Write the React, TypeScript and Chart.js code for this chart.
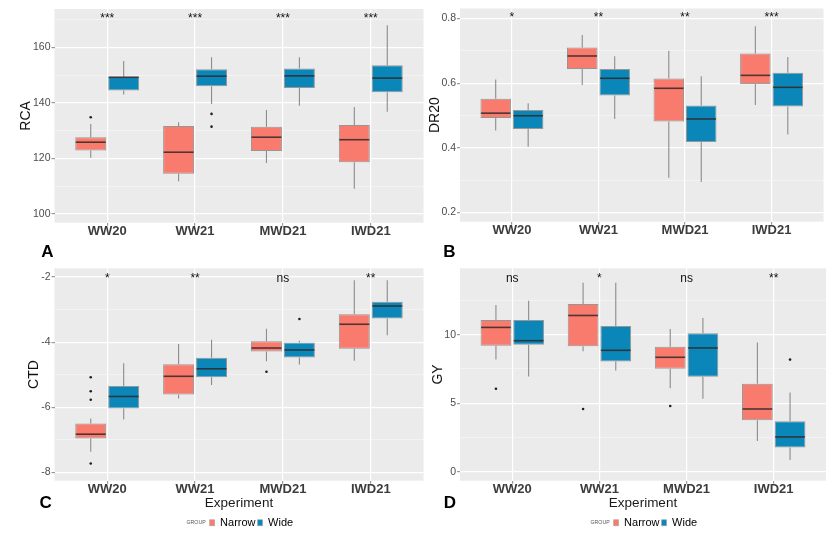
import React, { useEffect, useRef } from 'react';
import { Chart, registerables } from 'chart.js';

Chart.register(...registerables);

const FONT = "'Liberation Sans', Arial, Helvetica, sans-serif";
const NARROW_COLOR = '#F97B6D';
const WIDE_COLOR = '#0A87B8';

// ---------- data ----------
const CATEGORIES = ['WW20', 'WW21', 'MWD21', 'IWD21'];
const GROUPS = ['Narrow', 'Wide'];

// each box: [lower whisker, Q1, median, Q3, upper whisker]
const RCA_NARROW = [
  [120.2, 122.8, 125.8, 127.6, 132.4],
  [111.7, 114.4, 122.2, 131.6, 133.0],
  [118.3, 122.6, 127.6, 131.4, 137.4],
  [109.0, 118.6, 126.7, 132.0, 138.5],
];
const RCA_WIDE = [
  [143.0, 144.4, 149.2, 149.4, 155.1],
  [139.6, 146.0, 149.6, 152.1, 156.4],
  [138.9, 145.3, 149.7, 152.4, 156.4],
  [136.8, 143.8, 148.9, 153.5, 167.9],
];
const RCA_NARROW_OUT = [[134.8], [], [], []];
const RCA_WIDE_OUT = [[], [136.0, 131.4], [], []];
const RCA_SIG = ['***', '***', '***', '***'];
const RCA_MAJOR = [100, 120, 140, 160];
const RCA_MINOR = [110, 130, 150, 170];

const DR20_NARROW = [
  [0.453, 0.492, 0.507, 0.552, 0.611],
  [0.594, 0.644, 0.684, 0.710, 0.749],
  [0.307, 0.481, 0.584, 0.614, 0.700],
  [0.532, 0.597, 0.624, 0.692, 0.776],
];
const DR20_WIDE = [
  [0.403, 0.458, 0.499, 0.517, 0.538],
  [0.489, 0.562, 0.615, 0.644, 0.683],
  [0.294, 0.418, 0.489, 0.531, 0.621],
  [0.441, 0.528, 0.587, 0.632, 0.681],
];
const DR20_NARROW_OUT = [[], [], [], []];
const DR20_WIDE_OUT = [[], [], [], []];
const DR20_SIG = ['*', '**', '**', '***'];
const DR20_MAJOR = [0.2, 0.4, 0.6, 0.8];
const DR20_MINOR = [0.3, 0.5, 0.7];

const CTD_NARROW = [
  [-7.37, -6.96, -6.83, -6.50, -6.35],
  [-5.73, -5.61, -5.05, -4.68, -4.06],
  [-4.59, -4.29, -4.18, -3.97, -3.59],
  [-4.57, -4.20, -3.45, -3.14, -2.10],
];
const CTD_WIDE = [
  [-6.38, -6.04, -5.67, -5.35, -4.65],
  [-5.32, -5.08, -4.82, -4.48, -3.93],
  [-4.69, -4.47, -4.24, -4.01, -3.96],
  [-3.79, -3.27, -2.89, -2.76, -2.10],
];
const CTD_NARROW_OUT = [[-5.08, -5.51, -5.77, -7.73], [], [-4.91], []];
const CTD_WIDE_OUT = [[], [], [-3.29], []];
const CTD_SIG = ['*', '**', 'ns', '**'];
const CTD_MAJOR = [-8, -6, -4, -2];
const CTD_MINOR = [-7, -5, -3];

const GY_NARROW = [
  [8.18, 9.20, 10.53, 11.07, 12.16],
  [8.79, 9.15, 11.40, 12.23, 13.78],
  [6.10, 7.51, 8.35, 9.11, 10.41],
  [2.25, 3.75, 4.58, 6.42, 9.42],
];
const GY_WIDE = [
  [6.95, 9.27, 9.56, 11.07, 12.47],
  [7.39, 8.04, 8.86, 10.63, 13.78],
  [5.33, 6.93, 9.03, 10.10, 11.21],
  [0.86, 1.77, 2.54, 3.68, 5.79],
];
const GY_NARROW_OUT = [[6.06], [4.58], [4.80], []];
const GY_WIDE_OUT = [[], [], [], [8.18]];
const GY_SIG = ['ns', '*', 'ns', '**'];
const GY_MAJOR = [0, 5, 10];
const GY_MINOR = [2.5, 7.5, 12.5];

// ---------- panel layout ----------
type Rect = { left: number; top: number; w: number; h: number };
type Area = { left: number; top: number; right: number; bottom: number };
type PanelSpec = {
  letter: string;
  letterPos: [number, number];
  title: string;
  titlePad: number;
  narrow: number[][];
  wide: number[][];
  narrowOut: number[][];
  wideOut: number[][];
  sig: string[];
  sigY: number;
  yMin: number;
  yMax: number;
  major: number[];
  minor: number[];
  canvas: Rect;
  area: Area;
  bottomRow: boolean;
};

const PANELS: PanelSpec[] = [
  {
    letter: 'A', letterPos: [47.5, 251.5], title: 'RCA', titlePad: 17.6,
    narrow: RCA_NARROW, wide: RCA_WIDE, narrowOut: RCA_NARROW_OUT, wideOut: RCA_WIDE_OUT,
    sig: RCA_SIG, sigY: 170.3, yMin: 96.8, yMax: 173.8, major: RCA_MAJOR, minor: RCA_MINOR,
    canvas: { left: 0, top: 0, w: 425, h: 260 },
    area: { left: 54.5, top: 9, right: 423.5, bottom: 222.7 },
    bottomRow: false,
  },
  {
    letter: 'B', letterPos: [449.5, 251.7], title: 'DR20', titlePad: 2.1,
    narrow: DR20_NARROW, wide: DR20_WIDE, narrowOut: DR20_NARROW_OUT, wideOut: DR20_WIDE_OUT,
    sig: DR20_SIG, sigY: 0.8025, yMin: 0.171, yMax: 0.831, major: DR20_MAJOR, minor: DR20_MINOR,
    canvas: { left: 425, top: 0, w: 413, h: 260 },
    area: { left: 35, top: 8.5, right: 398.5, bottom: 221.7 },
    bottomRow: false,
  },
  {
    letter: 'C', letterPos: [45.7, 503], title: 'CTD', titlePad: 25.6,
    narrow: CTD_NARROW, wide: CTD_WIDE, narrowOut: CTD_NARROW_OUT, wideOut: CTD_WIDE_OUT,
    sig: CTD_SIG, sigY: -2.05, yMin: -8.26, yMax: -1.73, major: CTD_MAJOR, minor: CTD_MINOR,
    canvas: { left: 0, top: 260, w: 425, h: 273 },
    area: { left: 54.5, top: 8.3, right: 423.5, bottom: 220.7 },
    bottomRow: true,
  },
  {
    letter: 'D', letterPos: [450, 503], title: 'GY', titlePad: 4.6,
    narrow: GY_NARROW, wide: GY_WIDE, narrowOut: GY_NARROW_OUT, wideOut: GY_WIDE_OUT,
    sig: GY_SIG, sigY: 14.05, yMin: -0.65, yMax: 14.84, major: GY_MAJOR, minor: GY_MINOR,
    canvas: { left: 425, top: 260, w: 413, h: 273 },
    area: { left: 35, top: 8.3, right: 401, bottom: 220.7 },
    bottomRow: true,
  },
];

const LEGEND_TOP = 255.2; // within bottom-row canvases

function makeBoxPlugin(spec: PanelSpec) {
  return {
    id: 'ggBox' + spec.letter,
    beforeDraw(chart: any) {
      const { ctx, chartArea: a } = chart;
      ctx.save();
      ctx.fillStyle = '#EBEBEB';
      ctx.fillRect(a.left, a.top, a.right - a.left, a.bottom - a.top);
      ctx.restore();
    },
    afterDatasetsDraw(chart: any) {
      const ctx = chart.ctx;
      const ys = chart.scales.y;
      const xs = chart.scales.x;
      ctx.save();
      chart.data.datasets.forEach((ds: any, di: number) => {
        const meta = chart.getDatasetMeta(di);
        meta.data.forEach((el: any, i: number) => {
          const s = ds.stats[i];
          const cx = el.x;
          const w = el.width;
          ctx.strokeStyle = '#8C8C8C';
          ctx.lineWidth = 1.1;
          ctx.beginPath();
          ctx.moveTo(cx, ys.getPixelForValue(s[3]));
          ctx.lineTo(cx, ys.getPixelForValue(s[4]));
          ctx.moveTo(cx, ys.getPixelForValue(s[1]));
          ctx.lineTo(cx, ys.getPixelForValue(s[0]));
          ctx.stroke();
          ctx.strokeStyle = 'rgba(50,40,40,0.85)';
          ctx.lineWidth = 1.6;
          ctx.beginPath();
          const my = ys.getPixelForValue(s[2]);
          ctx.moveTo(cx - w / 2 + 0.5, my);
          ctx.lineTo(cx + w / 2 - 0.5, my);
          ctx.stroke();
          ctx.fillStyle = '#1E1E1E';
          (ds.outliers[i] || []).forEach((v: number) => {
            ctx.beginPath();
            ctx.arc(cx, ys.getPixelForValue(v), 1.3, 0, Math.PI * 2);
            ctx.fill();
          });
        });
      });
      ctx.font = `12px ${FONT}`;
      ctx.textAlign = 'center';
      ctx.textBaseline = 'middle';
      ctx.fillStyle = '#111111';
      spec.sig.forEach((t, i) => {
        ctx.fillText(t, xs.getPixelForValue(i + 1), ys.getPixelForValue(spec.sigY));
      });
      ctx.restore();
    },
    afterDraw(chart: any) {
      if (!spec.bottomRow) return;
      const lg = chart.legend;
      const hb = lg && lg.legendHitBoxes;
      if (!hb || hb.length < 2) return;
      const n = hb[1];
      const ctx = chart.ctx;
      ctx.save();
      ctx.font = `5.2px ${FONT}`;
      ctx.textAlign = 'right';
      ctx.textBaseline = 'middle';
      ctx.fillStyle = '#555555';
      ctx.fillText('GROUP', n.left - 4, n.top + n.height / 2);
      ctx.restore();
    },
  };
}

function Panel({ spec }: { spec: PanelSpec }) {
  const ref = useRef<HTMLCanvasElement | null>(null);
  useEffect(() => {
    if (!ref.current) return;
    const { canvas, area } = spec;
    const isMajor = (v: number) => spec.major.some((m) => Math.abs(m - v) < 1e-9);
    const xAxisH = (spec.bottomRow ? LEGEND_TOP : canvas.h) - area.bottom;
    const datasets: any[] = [
      {
        label: GROUPS[0],
        data: spec.narrow.map((s, i) => ({ x: i + 1, y: [s[1], s[3]] })),
        backgroundColor: NARROW_COLOR,
        borderColor: 'rgba(80,80,80,0.55)',
        borderWidth: 1,
        borderSkipped: false,
        stats: spec.narrow,
        outliers: spec.narrowOut,
      },
      {
        label: GROUPS[1],
        data: spec.wide.map((s, i) => ({ x: i + 1, y: [s[1], s[3]] })),
        backgroundColor: WIDE_COLOR,
        borderColor: 'rgba(80,80,80,0.55)',
        borderWidth: 1,
        borderSkipped: false,
        stats: spec.wide,
        outliers: spec.wideOut,
      },
    ];
    const chart = new Chart(ref.current, {
      type: 'bar',
      data: { datasets },
      plugins: [makeBoxPlugin(spec)],
      options: {
        animation: false,
        responsive: false,
        maintainAspectRatio: false,
        layout: { padding: { left: 0, top: area.top, right: canvas.w - area.right, bottom: 0 } },
        datasets: { bar: { categoryPercentage: 0.75, barPercentage: 0.94 } },
        plugins: {
          tooltip: { enabled: false },
          legend: spec.bottomRow
            ? {
                display: true,
                position: 'bottom',
                fullSize: false,
                maxHeight: canvas.h - LEGEND_TOP,
                labels: {
                  font: { family: FONT, size: 11 },
                  color: '#1A1A1A',
                  boxWidth: 5,
                  boxHeight: 6,
                  padding: 2,
                  generateLabels: () => [
                    { text: '    ', fillStyle: 'rgba(0,0,0,0)', strokeStyle: 'rgba(0,0,0,0)', lineWidth: 0, hidden: false, datasetIndex: -1 },
                    { text: GROUPS[0], fillStyle: NARROW_COLOR, strokeStyle: '#A0A0A0', lineWidth: 0.6, hidden: false, datasetIndex: 0 },
                    { text: GROUPS[1], fillStyle: WIDE_COLOR, strokeStyle: '#A0A0A0', lineWidth: 0.6, hidden: false, datasetIndex: 1 },
                  ],
                },
              }
            : { display: false },
        },
        scales: {
          x: {
            type: 'linear',
            min: 0.4,
            max: 4.6,
            offset: false,
            bounds: 'data',
            afterBuildTicks: (s: any) => {
              s.ticks = CATEGORIES.map((_, i) => ({ value: i + 1 }));
            },
            afterFit: (s: any) => {
              s.height = xAxisH;
            },
            ticks: {
              autoSkip: false,
              maxRotation: 0,
              padding: -0.5,
              color: '#3C3C3C',
              font: { family: FONT, size: 13, weight: 'bold', lineHeight: 1 },
              callback: (v: any) => CATEGORIES[Math.round(Number(v)) - 1] ?? '',
            },
            grid: { offset: false, color: '#FFFFFF', lineWidth: 1.2, tickColor: '#9A9A9A', tickLength: 3 },
            border: { display: false },
            title: spec.bottomRow
              ? { display: true, text: 'Experiment', color: '#1A1A1A', font: { family: FONT, size: 13.5 }, padding: { top: 0, bottom: 4.1 } }
              : { display: false },
          },
          y: {
            type: 'linear',
            min: spec.yMin,
            max: spec.yMax,
            beginAtZero: false,
            bounds: 'data',
            afterBuildTicks: (s: any) => {
              s.ticks = [...spec.major, ...spec.minor].sort((a, b) => a - b).map((v) => ({ value: v }));
            },
            afterFit: (s: any) => {
              s.width = area.left;
            },
            ticks: {
              autoSkip: false,
              padding: 1,
              color: '#4D4D4D',
              font: { family: FONT, size: 10.5 },
              callback: (v: any) => (isMajor(Number(v)) ? String(v) : ''),
            },
            grid: {
              color: (c: any) => (c.tick && isMajor(c.tick.value) ? '#FFFFFF' : '#F8F8F8'),
              lineWidth: (c: any) => (c.tick && isMajor(c.tick.value) ? 1.2 : 0.6),
              tickColor: (c: any) => (c.tick && isMajor(c.tick.value) ? '#9A9A9A' : 'rgba(0,0,0,0)'),
              tickLength: 3,
            },
            border: { display: false },
            title: { display: true, text: spec.title, color: '#111111', font: { family: FONT, size: 14 }, padding: { top: spec.titlePad, bottom: 0 } },
          },
        },
      } as any,
    });
    return () => chart.destroy();
  }, [spec]);

  return (
    <>
      <canvas
        ref={ref}
        width={spec.canvas.w}
        height={spec.canvas.h}
        style={{ position: 'absolute', left: spec.canvas.left, top: spec.canvas.top, width: spec.canvas.w, height: spec.canvas.h }}
      />
      <div
        style={{
          position: 'absolute',
          left: spec.letterPos[0] - 12,
          top: spec.letterPos[1] - 10,
          width: 24,
          height: 20,
          lineHeight: '20px',
          textAlign: 'center',
          font: `bold 17px ${FONT}`,
          color: '#000',
        }}
      >
        {spec.letter}
      </div>
    </>
  );
}

export default function App() {
  return (
    <div style={{ position: 'absolute', left: 0, top: 0, width: 838, height: 533, background: '#FFFFFF', overflow: 'hidden' }}>
      {PANELS.map((p) => (
        <Panel key={p.letter} spec={p} />
      ))}
    </div>
  );
}
